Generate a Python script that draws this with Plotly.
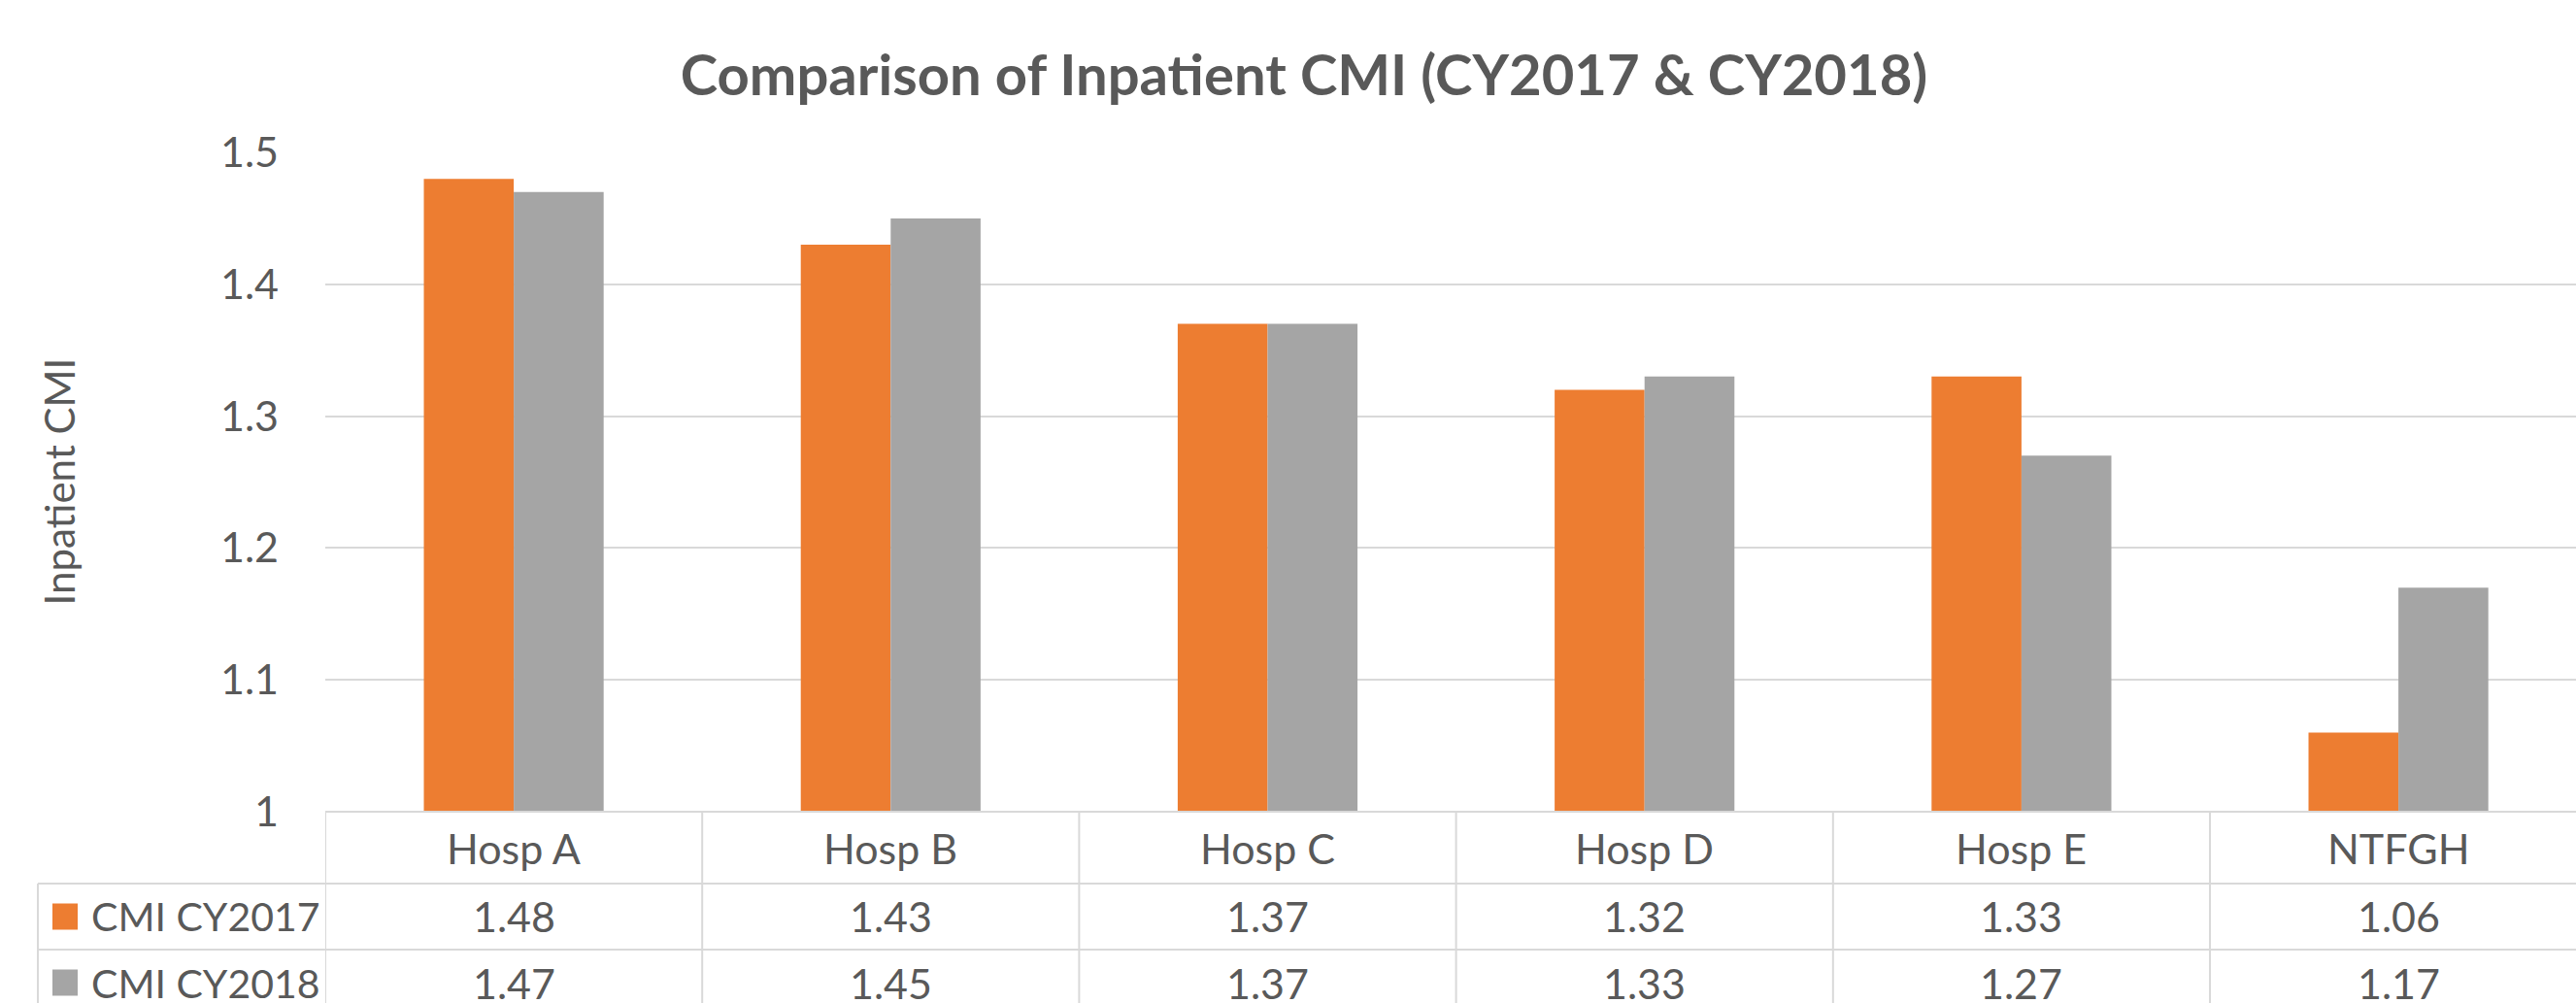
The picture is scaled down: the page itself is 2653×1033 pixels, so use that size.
import plotly.graph_objects as go

# ---- data ----
categories = ["Hosp A", "Hosp B", "Hosp C", "Hosp D", "Hosp E", "NTFGH"]
series_names = ["CMI CY2017", "CMI CY2018"]
cmi_2017 = [1.48, 1.43, 1.37, 1.32, 1.33, 1.06]
cmi_2018 = [1.47, 1.45, 1.37, 1.33, 1.27, 1.17]
y_ticks = [1.0, 1.1, 1.2, 1.3, 1.4, 1.5]
y_tick_labels = ["1", "1.1", "1.2", "1.3", "1.4", "1.5"]
title_text = "Comparison of Inpatient CMI (CY2017 & CY2018)"
y_title = "Inpatient CMI"

# ---- styling / layout geometry ----
W, H = 2653, 1033
PL, PT, PB_PIX = 335, 157, 836          # plot left, top, bottom (px)
PR = W                                   # plot right
plot_w = PR - PL
plot_h = PB_PIX - PT
cat_w = 388.2                            # px per category
x_hi = -0.5 + plot_w / cat_w

ORANGE = "#ED7D31"
GRAY = "#A5A5A5"
TXT = "#595959"
GRID = "#D9D9D9"
FONT = "Lato"
FS = 43

def py(pix):  # pixel row -> paper y
    return (PB_PIX - pix) / plot_h

def px(pix):  # pixel col -> paper x
    return (pix - PL) / plot_w

fig = go.Figure()
fig.add_trace(go.Bar(x=categories, y=cmi_2017, name=series_names[0],
                     marker=dict(color=ORANGE, line=dict(width=0))))
fig.add_trace(go.Bar(x=categories, y=cmi_2018, name=series_names[1],
                     marker=dict(color=GRAY, line=dict(width=0))))

shapes = []
annotations = []

# table geometry (px)
row_edges = [836, 910, 978, 1046]
table_left = 39

# horizontal lines
shapes.append(dict(type="line", xref="paper", yref="paper", x0=0, x1=1,
                   y0=py(row_edges[0]), y1=py(row_edges[0]),
                   line=dict(color=GRID, width=2), layer="above"))
for r in row_edges[1:]:
    shapes.append(dict(type="line", xref="paper", yref="paper",
                       x0=px(table_left), x1=1, y0=py(r), y1=py(r),
                       line=dict(color=GRID, width=2)))
# vertical lines at category boundaries
for i in range(len(categories) + 1):
    shapes.append(dict(type="line", xref="x", yref="paper",
                       x0=i - 0.5, x1=i - 0.5, y0=py(row_edges[0]), y1=py(row_edges[-1]),
                       line=dict(color=GRID, width=2)))
# left border
shapes.append(dict(type="line", xref="paper", yref="paper",
                   x0=px(table_left), x1=px(table_left),
                   y0=py(row_edges[1]), y1=py(row_edges[-1]),
                   line=dict(color=GRID, width=2)))

# header labels
hdr_c = (row_edges[0] + row_edges[1]) / 2
for c in categories:
    annotations.append(dict(x=c, y=py(hdr_c), xref="x", yref="paper", text=c,
                            showarrow=False, xanchor="center", yanchor="middle",
                            font=dict(family=FONT, size=FS, color=TXT)))

# value rows
for ri, (vals, name, col) in enumerate([(cmi_2017, series_names[0], ORANGE),
                                        (cmi_2018, series_names[1], GRAY)]):
    yc = (row_edges[ri + 1] + row_edges[ri + 2]) / 2
    for c, v in zip(categories, vals):
        annotations.append(dict(x=c, y=py(yc), xref="x", yref="paper", text=f"{v:.2f}",
                                showarrow=False, xanchor="center", yanchor="middle",
                                font=dict(family=FONT, size=FS, color=TXT)))
    shapes.append(dict(type="rect", xref="paper", yref="paper",
                       x0=px(54), x1=px(80), y0=py(yc - 13.5), y1=py(yc + 13.5),
                       fillcolor=col, line=dict(width=0)))
    annotations.append(dict(x=px(92), y=py(yc), xref="paper", yref="paper", text=name,
                            showarrow=False, xanchor="left", yanchor="middle",
                            font=dict(family=FONT, size=41, color=TXT)))

# y axis title
annotations.append(dict(x=px(60), y=0.5, xref="paper", yref="paper", text=y_title,
                        showarrow=False, textangle=-90, xanchor="center", yanchor="middle",
                        font=dict(family=FONT, size=42, color=TXT)))

fig.update_layout(
    width=W, height=H,
    margin=dict(l=PL, r=W - PR, t=PT, b=H - PB_PIX, pad=0),
    paper_bgcolor="white", plot_bgcolor="white",
    barmode="group", bargap=0.523, bargroupgap=0,
    showlegend=False,
    title=dict(text=title_text, x=1343 / W, xanchor="center", xref="container",
               y=1 - 78 / H, yanchor="middle", yref="container",
               font=dict(family=FONT, size=58, color=TXT, weight="bold")),
    xaxis=dict(range=[-0.5, x_hi], showticklabels=False, showgrid=False,
               zeroline=False, showline=False, ticks=""),
    yaxis=dict(range=[1.0, 1.5], tickvals=y_ticks, ticktext=y_tick_labels,
               showgrid=True, gridcolor=GRID, gridwidth=2, zeroline=False,
               showline=False, ticks="", ticklabelstandoff=47,
               tickfont=dict(family=FONT, size=FS, color=TXT)),
    shapes=shapes, annotations=annotations,
    font=dict(family=FONT, color=TXT),
)

fig.write_html("out.html", config={"displayModeBar": False},
               post_script="document.body.style.margin='0';document.body.style.overflow='hidden';")
